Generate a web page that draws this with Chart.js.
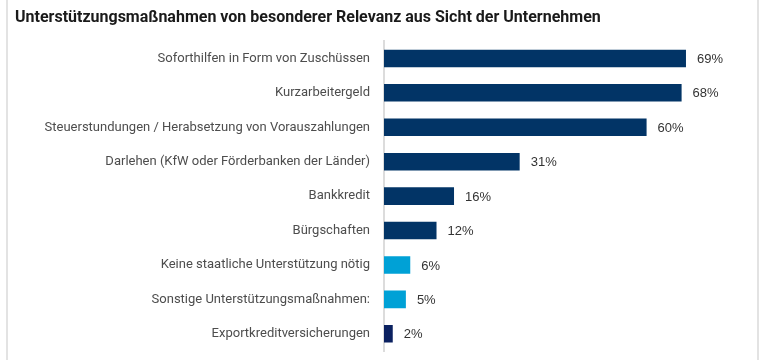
<!DOCTYPE html>
<html>
<head>
<meta charset="utf-8">
<script src="https://cdn.jsdelivr.net/npm/chart.js@4/dist/chart.umd.min.js"></script>
<style>
  html, body { margin: 0; padding: 0; background: #fff; }
  #wrap { position: relative; width: 766px; height: 360px; }
</style>
</head>
<body>
<div id="wrap"><canvas id="chart"></canvas></div>
<script>
var TITLE = "Unterstützungsmaßnahmen von besonderer Relevanz aus Sicht der Unternehmen";

var categories = [
  "Soforthilfen in Form von Zuschüssen",
  "Kurzarbeitergeld",
  "Steuerstundungen / Herabsetzung von Vorauszahlungen",
  "Darlehen (KfW oder Förderbanken der Länder)",
  "Bankkredit",
  "Bürgschaften",
  "Keine staatliche Unterstützung nötig",
  "Sonstige Unterstützungsmaßnahmen:",
  "Exportkreditversicherungen"
];
var values = [69, 68, 60, 31, 16, 12, 6, 5, 2];

var NAVY = "#023466";
var LIGHT = "#00a1d6";
var DEEP = "#0b2160";
var barColors = [NAVY, NAVY, NAVY, NAVY, NAVY, NAVY, LIGHT, LIGHT, DEEP];

// light grey side rules of the frame
var framePlugin = {
  id: "frame",
  beforeDraw: function (chart) {
    var ctx = chart.ctx;
    ctx.save();
    ctx.fillStyle = "#e3e3e3";
    ctx.fillRect(6, 0, 2, chart.height);
    ctx.fillRect(757, 0, 2, chart.height);
    ctx.restore();
  }
};

// value labels right of each bar
var valueLabels = {
  id: "valueLabels",
  afterDatasetsDraw: function (chart) {
    var ctx = chart.ctx;
    var meta = chart.getDatasetMeta(0);
    ctx.save();
    ctx.font = "13px 'Liberation Sans', Arial, sans-serif";
    ctx.fillStyle = "#333333";
    ctx.textAlign = "left";
    ctx.textBaseline = "middle";
    meta.data.forEach(function (bar, i) {
      ctx.fillText(values[i] + "%", bar.x + 11, bar.y + 1);
    });
    ctx.restore();
  }
};

new Chart(document.getElementById("chart"), {
  type: "bar",
  data: {
    labels: categories,
    datasets: [{
      data: values,
      backgroundColor: barColors,
      borderWidth: 0,
      categoryPercentage: 1,
      barPercentage: 0.51
    }]
  },
  options: {
    indexAxis: "y",
    responsive: true,
    maintainAspectRatio: false,
    animation: false,
    layout: { padding: { top: 0, right: 10, bottom: 9, left: 15 } },
    plugins: {
      legend: { display: false },
      tooltip: { enabled: false },
      title: {
        display: true,
        text: TITLE,
        align: "start",
        color: "#1a1a1a",
        font: { family: "Roboto, 'Open Sans', sans-serif", size: 16, weight: "bold", lineHeight: 1.2 },
        padding: { top: 8, bottom: 14 }
      }
    },
    scales: {
      x: {
        display: false,
        min: 0,
        max: 85
      },
      y: {
        grid: { display: false, drawTicks: false },
        border: { display: true, color: "#dcdcdc", width: 2 },
        ticks: {
          color: "#4d4d4d",
          padding: 14,
          font: { family: "Roboto, 'Open Sans', sans-serif", size: 13 }
        },
        afterFit: function (scale) {
          scale.width = 369;
          scale.paddingTop = 0;
          scale.paddingBottom = 0;
        }
      }
    }
  },
  plugins: [framePlugin, valueLabels]
});
</script>
</body>
</html>
